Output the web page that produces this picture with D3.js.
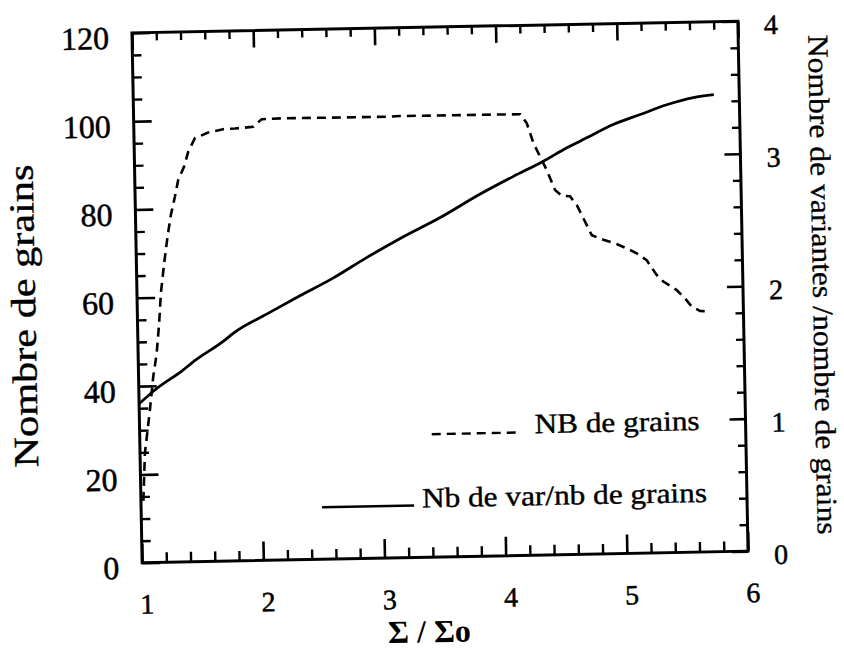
<!DOCTYPE html>
<html>
<head>
<meta charset="utf-8">
<script src="https://cdn.jsdelivr.net/npm/d3@7"></script>
<style>
  html, body { margin: 0; padding: 0; background: #fff; }
  svg { display: block; }
  text { font-family: "Liberation Serif", "Times New Roman", serif; fill: #000; }
</style>
</head>
<body>
<svg id="chart" width="844" height="651"></svg>
<script>
// ---- data ----
const xTicks = [1, 2, 3, 4, 5, 6];
const leftTicks = [0, 20, 40, 60, 80, 100, 120];
const rightTicks = [0, 1, 2, 3, 4];

// dashed: "NB de grains" (left axis)
const grainsX = [1.02, 1.04, 1.066, 1.088, 1.121, 1.153, 1.178, 1.197, 1.229, 1.261, 1.292, 1.328, 1.358, 1.409, 1.446, 1.503, 1.613, 1.737, 1.834, 1.986, 2.056, 2.221, 3.09, 3.198, 4.19, 4.243, 4.294, 4.399, 4.465, 4.519, 4.587, 4.642, 4.761, 4.856, 4.965, 5.074, 5.129, 5.21, 5.29, 5.344, 5.453, 5.52, 5.574, 5.642, 5.724];
const grainsY = [14, 24.8, 30.0, 34.5, 42.1, 47.3, 54.1, 60.9, 67.7, 73.7, 78.6, 82.7, 86.5, 89.5, 92.9, 95.9, 97.1, 97.8, 97.9, 98.2, 99.9, 100.0, 99.9, 100.0, 99.9, 97.8, 93.3, 87.2, 82.6, 81.3, 81.1, 79.1, 72.2, 71.1, 70.1, 68.7, 67.9, 66.3, 62.9, 61.4, 59.4, 57.5, 55.6, 54.6, 54.4];

// solid: "Nb de var/nb de grains" (right axis)
const ratioX = [1.0, 1.13, 1.37, 1.44, 1.72, 1.79, 2.07, 2.34, 2.62, 2.9, 3.18, 3.51, 3.84, 4.12, 4.37, 4.57, 4.73, 4.96, 5.18, 5.4, 5.62, 5.79];
const ratioY = [1.20, 1.30, 1.45, 1.50, 1.67, 1.72, 1.86, 1.99, 2.12, 2.27, 2.41, 2.56, 2.73, 2.86, 2.97, 3.07, 3.14, 3.24, 3.31, 3.38, 3.43, 3.45];

const legendLabels = ["NB de grains", "Nb de var/nb de grains"];
const xTitle = "\u03A3 / \u03A3o";
const leftTitle = "Nombre de grains";
const rightTitle = "Nombre de variantes /nombre de grains";

// ---- layout ----
const L = 137, R = 743, T = 27, B = 557;
const svg = d3.select("#chart");
const g = svg.append("g").attr("transform", "rotate(-1.1, 440, 292)");

const x = d3.scaleLinear().domain([1, 6]).range([L, R]);
const yL = d3.scaleLinear().domain([0, 120]).range([B, T]);
const yR = d3.scaleLinear().domain([0, 4]).range([B, T]);

const xMinor = d3.range(1, 6.001, 0.2).map(v => +v.toFixed(1)).filter(v => !xTicks.includes(v));
const leftMinor = d3.range(0, 120.01, 5).filter(v => !leftTicks.includes(v));
const rightMinor = d3.range(0, 4.001, 0.2).map(v => +v.toFixed(1)).filter(v => !rightTicks.includes(v));

function styleAxis(sel, w) {
  sel.select(".domain").remove();
  sel.selectAll(".tick line").attr("stroke", "#000").attr("stroke-width", w);
}

// bottom
const gb = g.append("g").attr("transform", `translate(0,${B})`)
  .call(d3.axisBottom(x).tickValues(xTicks).tickSize(-19).tickFormat(d3.format("d")));
styleAxis(gb, 2.6);
gb.selectAll(".tick text").attr("y", 51).attr("dy", 0).attr("x", 4)
  .attr("font-size", 28).attr("font-family", "Liberation Serif")
  .attr("stroke", "#000").attr("stroke-width", 0.5);
const gbm = g.append("g").attr("transform", `translate(0,${B})`)
  .call(d3.axisBottom(x).tickValues(xMinor).tickSize(-10).tickFormat(""));
styleAxis(gbm, 2.4);

// top
const gt = g.append("g").attr("transform", `translate(0,${T})`)
  .call(d3.axisTop(x).tickValues(xTicks).tickSize(-17).tickFormat(""));
styleAxis(gt, 2.6);
const gtm = g.append("g").attr("transform", `translate(0,${T})`)
  .call(d3.axisTop(x).tickValues(xMinor).tickSize(-8).tickFormat(""));
styleAxis(gtm, 2.4);

// left
const gl = g.append("g").attr("transform", `translate(${L},0)`)
  .call(d3.axisLeft(yL).tickValues(leftTicks).tickSize(-18).tickPadding(23).tickFormat(d3.format("d")));
styleAxis(gl, 2.6);
gl.selectAll(".tick text").attr("y", 5)
  .attr("font-size", 32).attr("font-family", "Liberation Serif")
  .attr("stroke", "#000").attr("stroke-width", 0.5);
const glm = g.append("g").attr("transform", `translate(${L},0)`)
  .call(d3.axisLeft(yL).tickValues(leftMinor).tickSize(-9).tickFormat(""));
styleAxis(glm, 2.4);

// right
const gr = g.append("g").attr("transform", `translate(${R},0)`)
  .call(d3.axisRight(yR).tickValues(rightTicks).tickSize(-16).tickPadding(26).tickFormat(d3.format("d")));
styleAxis(gr, 2.6);
gr.selectAll(".tick text").attr("y", 4)
  .attr("font-size", 28).attr("font-family", "Liberation Serif")
  .attr("stroke", "#000").attr("stroke-width", 0.5);
const grm = g.append("g").attr("transform", `translate(${R},0)`)
  .call(d3.axisRight(yR).tickValues(rightMinor).tickSize(-8).tickFormat(""));
styleAxis(grm, 2.4);

// frame
g.append("rect").attr("x", L).attr("y", T).attr("width", R - L).attr("height", B - T)
  .attr("fill", "none").attr("stroke", "#000").attr("stroke-width", 3);

// lines
const grainsData = grainsX.map((v, i) => [v, grainsY[i]]);
const ratioData = ratioX.map((v, i) => [v, ratioY[i]]);

g.append("path").datum(grainsData)
  .attr("fill", "none").attr("stroke", "#000").attr("stroke-width", 2.6)
  .attr("stroke-dasharray", "9,6")
  .attr("d", d3.line().x(d => x(d[0])).y(d => yL(d[1])));

g.append("path").datum(ratioData)
  .attr("fill", "none").attr("stroke", "#000").attr("stroke-width", 2.8)
  .attr("d", d3.line().curve(d3.curveMonotoneX).x(d => x(d[0])).y(d => yR(d[1])));

// legend
g.append("line").attr("x1", 429).attr("x2", 515).attr("y1", 434).attr("y2", 434)
  .attr("stroke", "#000").attr("stroke-width", 2.4).attr("stroke-dasharray", "9,6");
g.append("text").attr("x", 532).attr("y", 435).attr("font-size", 28)
  .attr("textLength", 165).attr("lengthAdjust", "spacingAndGlyphs")
  .attr("stroke", "#000").attr("stroke-width", 0.4)
  .text(legendLabels[0]);
g.append("line").attr("x1", 318).attr("x2", 410).attr("y1", 505).attr("y2", 505)
  .attr("stroke", "#000").attr("stroke-width", 2.6);
g.append("text").attr("x", 418).attr("y", 507).attr("font-size", 28)
  .attr("textLength", 285).attr("lengthAdjust", "spacingAndGlyphs")
  .attr("stroke", "#000").attr("stroke-width", 0.4)
  .text(legendLabels[1]);

// titles
g.append("text").attr("transform", "translate(35,308) rotate(-90)")
  .attr("text-anchor", "middle").attr("font-size", 35)
  .attr("textLength", 303).attr("lengthAdjust", "spacingAndGlyphs")
  .attr("stroke", "#000").attr("stroke-width", 0.4)
  .text(leftTitle);
g.append("text").attr("transform", "translate(813,292) rotate(90)")
  .attr("text-anchor", "middle").attr("font-size", 29)
  .attr("textLength", 500).attr("lengthAdjust", "spacingAndGlyphs")
  .attr("stroke", "#000").attr("stroke-width", 0.3)
  .text(rightTitle);
g.append("text").attr("x", 423).attr("y", 642)
  .attr("text-anchor", "middle").attr("font-size", 32).attr("font-weight", "bold")
  .text(xTitle);
</script>
</body>
</html>
